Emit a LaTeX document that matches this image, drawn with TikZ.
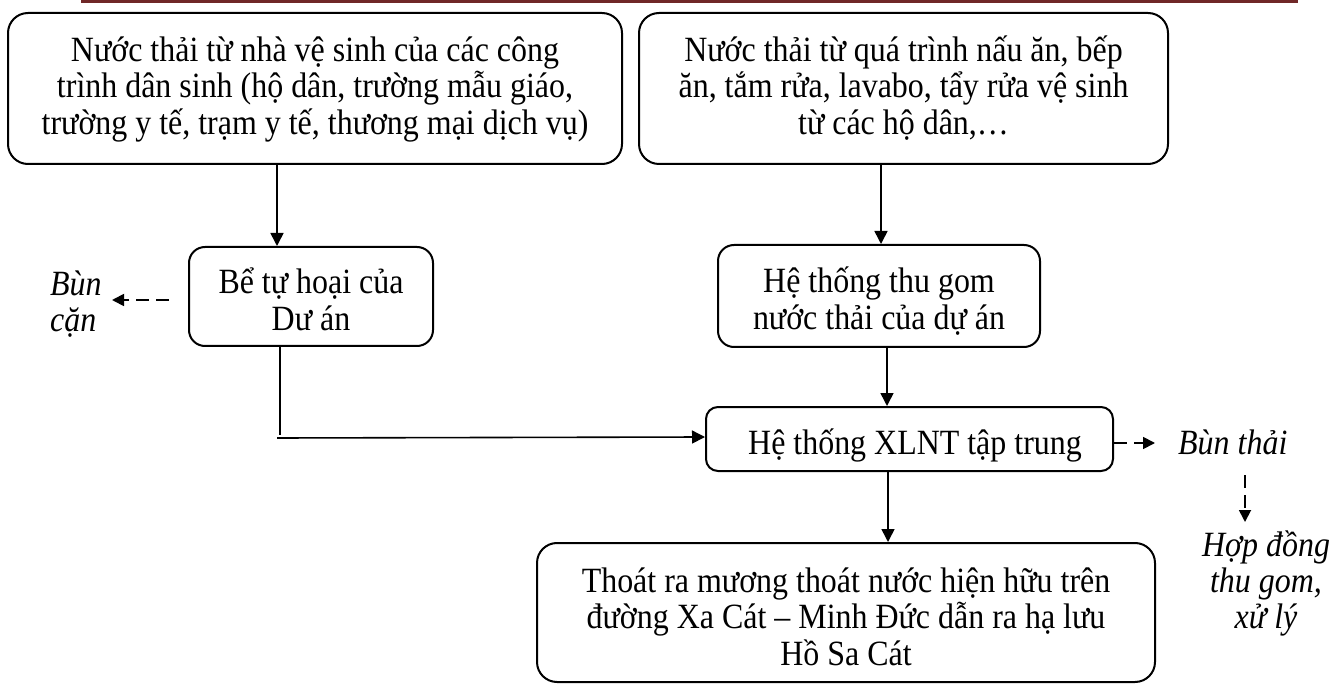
\documentclass[tikz,border=0pt]{standalone}
\usepackage{fontspec}
\setmainfont[FakeStretch=0.9]{Liberation Serif}
\usetikzlibrary{arrows.meta}
\definecolor{hdred}{RGB}{112,40,40}
\tikzset{
  box/.style={draw=black, line width=2pt, inner sep=0pt, align=center,
    text depth=0pt, font=\fontsize{35.5}{36.5}\selectfont},
  lbl/.style={inner sep=0pt, font=\fontsize{35.5}{36}\selectfont\itshape},
  arr/.style={line width=1.6pt, -{Triangle[length=13pt,width=13pt]}},
  darr/.style={line width=1.8pt, dash pattern=on 13pt off 7pt, -{Triangle[length=12pt,width=12pt]}},
  ln/.style={line width=1.6pt}
}
\begin{document}
\begin{tikzpicture}[x=1pt,y=-1pt]
\useasboundingbox (0,0) rectangle (1333,684);
\fill[hdred] (81,0) rectangle (1298,3);

\node[box, rounded corners=20pt, minimum width=614pt, minimum height=151pt, text height=92pt] (b1) at (315,88.5)
  {Nước thải từ nhà vệ sinh của các công\\trình dân sinh (hộ dân, trường mẫu giáo,\\trường y tế, trạm y tế, thương mại dịch vụ)};
\node[box, rounded corners=20pt, minimum width=529pt, minimum height=151pt, text height=92pt] (b2) at (903.5,88.5)
  {Nước thải từ quá trình nấu ăn, bếp\\ăn, tắm rửa, lavabo, tẩy rửa vệ sinh\\từ các hộ dân,…};
\node[box, rounded corners=16pt, minimum width=244pt, minimum height=99pt, text height=68pt] (bt) at (311,296.5)
  {Bể tự hoại của\\Dư án};
\node[box, rounded corners=16pt, minimum width=322pt, minimum height=102pt, text height=67pt] (tg) at (879,296)
  {Hệ thống thu gom\\nước thải của dự án};
\node[box, rounded corners=12pt, minimum width=407pt, minimum height=64pt, text height=30pt] (xl) at (909.5,439)
  {\hspace*{11pt}Hệ thống XLNT tập trung};
\node[box, rounded corners=20pt, minimum width=618pt, minimum height=139pt, text height=105pt] (ra) at (846,612.5)
  {Thoát ra mương thoát nước hiện hữu trên\\đường Xa Cát – Minh Đức dẫn ra hạ lưu\\Hồ Sa Cát};

\node[lbl, anchor=base west, align=left] (bc) at (50,332) {Bùn\\cặn};
\node[lbl, anchor=base west] (bth) at (1178,454) {Bùn thải};
\node[lbl, anchor=base, align=center] (hd) at (1266,628) {Hợp đồng\\thu gom,\\xử lý};

\draw[arr] ([xshift=-38pt]b1.south) -- ([xshift=-34pt]bt.north);
\draw[arr] ([xshift=-22.5pt]b2.south) -- ([xshift=2pt]tg.north);
\draw[arr] ([xshift=8pt]tg.south) -- ([xshift=-22.5pt]xl.north);
\draw[arr] ([xshift=-21.5pt]xl.south) -- ([xshift=42pt]ra.north);
\draw[ln] ([xshift=-31pt]bt.south) -- ([xshift=-31pt,yshift=-88pt]bt.south);
\draw[arr] ([xshift=-34pt,yshift=-91pt]bt.south) -- ([yshift=2pt]xl.west);

\draw[darr] ([xshift=-19pt,yshift=-3.5pt]bt.west) -- ([xshift=62pt,yshift=32pt]bc.base west);
\draw[darr] ([yshift=-4pt]xl.east) -- ([xshift=-23pt,yshift=11pt]bth.base west);
\draw[darr] ([xshift=67pt,yshift=-21pt]bth.base west) -- ([xshift=-21pt,yshift=106pt]hd.base);
\end{tikzpicture}
\end{document}
